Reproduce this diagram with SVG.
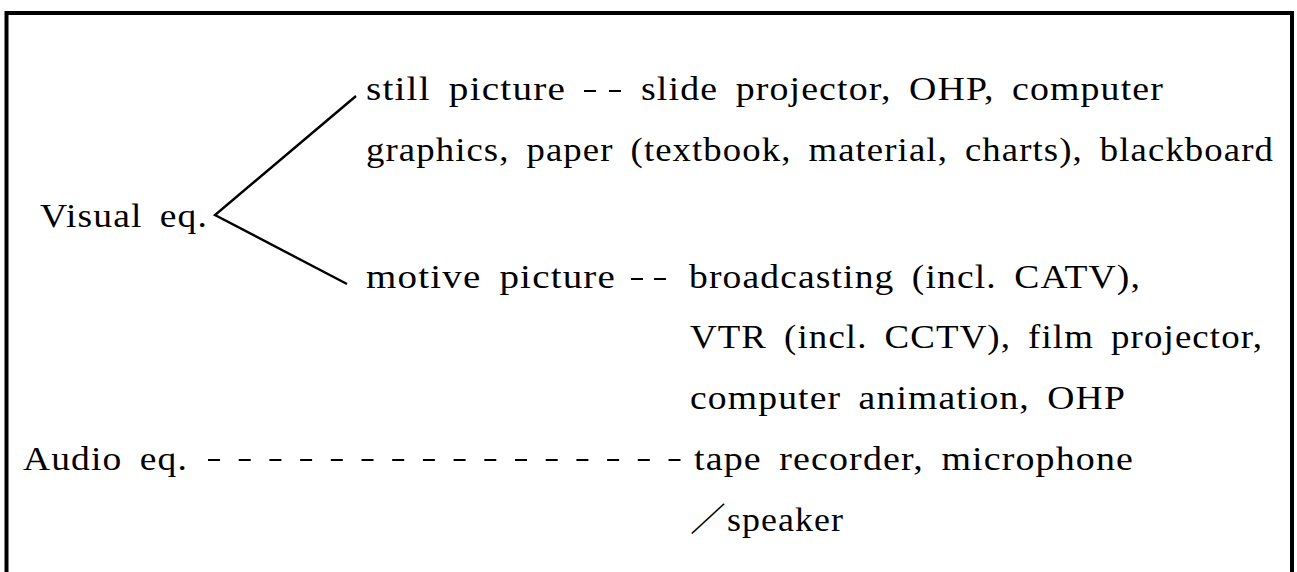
<svg xmlns="http://www.w3.org/2000/svg" width="1297" height="572" viewBox="0 0 1297 572">
  <style>
    .t { font-family: "Liberation Serif", "Noto Sans CJK JP", serif; font-size: 33px; fill: #000; word-spacing: 6px; letter-spacing: 1px; }
    .ln { stroke: #000; stroke-width: 2.4; fill: none; }
    .dash { stroke: #000; stroke-width: 2; fill: none; }
    .frame { stroke: #000; stroke-width: 4; fill: none; }
  </style>
  <rect width="1297" height="572" fill="#fff"/>
  <path class="frame" d="M6.5,580 V13 H1292 V580"/>

  <g id="connectors">
    <polyline class="ln" points="356,96 215,215 347,284"/>
    <line class="dash" x1="584" y1="91" x2="621" y2="91" stroke-dasharray="12 13"/>
    <line class="dash" x1="631" y1="279" x2="666" y2="279" stroke-dasharray="12 11"/>
    <line class="dash" x1="208" y1="460" x2="681" y2="460" stroke-dasharray="12 18.7"/>
  </g>

  <g id="visual">
    <text class="t" x="40" y="227" textLength="168" lengthAdjust="spacingAndGlyphs">Visual eq.</text>
  </g>
  <g id="still">
    <text class="t" x="366" y="100" textLength="200" lengthAdjust="spacingAndGlyphs">still picture</text>
  </g>
  <g id="still-items">
    <text class="t" x="641" y="100" textLength="523" lengthAdjust="spacingAndGlyphs">slide projector, OHP, computer</text>
    <text class="t" x="366" y="161" textLength="908" lengthAdjust="spacingAndGlyphs">graphics, paper (textbook, material, charts), blackboard</text>
  </g>
  <g id="motive">
    <text class="t" x="366" y="288" textLength="250" lengthAdjust="spacingAndGlyphs">motive picture</text>
  </g>
  <g id="motive-items">
    <text class="t" x="689" y="288" textLength="452" lengthAdjust="spacingAndGlyphs">broadcasting (incl. CATV),</text>
    <text class="t" x="690" y="348" textLength="573" lengthAdjust="spacingAndGlyphs">VTR (incl. CCTV), film projector,</text>
    <text class="t" x="690" y="409" textLength="436" lengthAdjust="spacingAndGlyphs">computer animation, OHP</text>
  </g>
  <g id="audio">
    <text class="t" x="23" y="470" textLength="165" lengthAdjust="spacingAndGlyphs">Audio eq.</text>
  </g>
  <g id="audio-items">
    <text class="t" x="694" y="470" textLength="440" lengthAdjust="spacingAndGlyphs">tape recorder, microphone</text>
    <text class="t" x="690" y="531" textLength="154" lengthAdjust="spacingAndGlyphs">／speaker</text>
  </g>
</svg>
